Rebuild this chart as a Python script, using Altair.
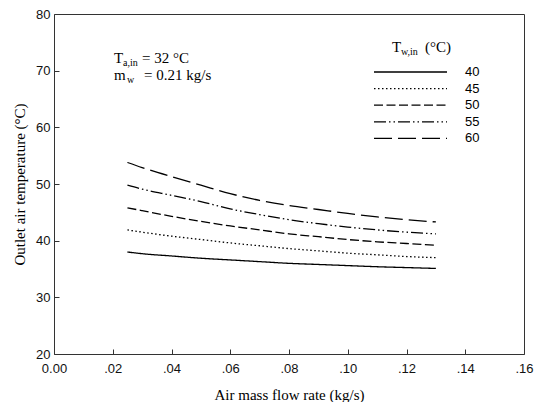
import altair as alt
import pandas as pd

# Data
air_flow = [0.025, 0.03, 0.04, 0.05, 0.06, 0.07, 0.08, 0.09, 0.10, 0.11, 0.12, 0.13]
t_40 = [38.0, 37.7, 37.3, 36.9, 36.6, 36.3, 36.0, 35.8, 35.6, 35.4, 35.25, 35.1]
t_45 = [41.9, 41.5, 40.8, 40.2, 39.6, 39.1, 38.6, 38.2, 37.8, 37.5, 37.2, 37.0]
t_50 = [45.8, 45.3, 44.3, 43.4, 42.6, 41.9, 41.2, 40.7, 40.2, 39.8, 39.5, 39.2]
t_55 = [49.8, 49.1, 48.0, 46.9, 45.6, 44.6, 43.7, 43.0, 42.4, 41.9, 41.5, 41.2]
t_60 = [53.8, 52.9, 51.3, 49.8, 48.3, 47.1, 46.2, 45.5, 44.8, 44.2, 43.7, 43.3]
series_names = ["40", "45", "50", "55", "60"]
series_values = [t_40, t_45, t_50, t_55, t_60]
x_ticks = [0.0, 0.02, 0.04, 0.06, 0.08, 0.10, 0.12, 0.14, 0.16]
y_ticks = [20, 30, 40, 50, 60, 70, 80]

rows = []
for name, vals in zip(series_names, series_values):
    for x, v in zip(air_flow, vals):
        rows.append({"m": x, "T": v, "series": name})
df = pd.DataFrame(rows)
legend_df = pd.DataFrame({"series": series_names, "idx": list(range(len(series_names)))})

dash_range = [[1, 0], [1.5, 2.5], [9, 3.5], [12, 3, 1.5, 3, 1.5, 3], [18, 6]]
dash = alt.StrokeDash("series:N", scale=alt.Scale(domain=series_names, range=dash_range), legend=None)

W, H = 470, 340
SERIF = "Liberation Serif"
SANS = "Liberation Sans"

lines = alt.Chart(df).mark_line(color="black", strokeWidth=1.3, interpolate="monotone").encode(
    x=alt.X("m:Q", scale=alt.Scale(domain=[0, 0.16], nice=False),
            axis=alt.Axis(values=x_ticks, title="Air mass flow rate (kg/s)", offset=-5,
                          tickSize=5, labelPadding=8, titlePadding=12, domain=False,
                          labelFlush=False,
                          labelExpr="datum.value == 0 ? '0.00' : replace(format(datum.value, '.2f'), '0.', '.')")),
    y=alt.Y("T:Q", scale=alt.Scale(domain=[20, 80], nice=False),
            axis=alt.Axis(values=y_ticks, title="Outlet air temperature (°C)", offset=-5,
                          tickSize=5, labelPadding=4, titlePadding=8, domain=False,
                          labelFlush=False)),
    strokeDash=dash,
    detail="series:N",
)

leg_base = alt.Chart(legend_df).transform_calculate(ly="58 + 16.6 * datum.idx")
leg_lines = leg_base.mark_rule(color="black", strokeWidth=1.3).encode(
    x=alt.value(320), x2=alt.value(393),
    y=alt.Y("ly:Q", scale=None),
    strokeDash=dash,
)
leg_labels = leg_base.mark_text(align="left", baseline="middle", font=SANS, fontSize=13, color="black").encode(
    x=alt.value(411), y=alt.Y("ly:Q", scale=None), text="series:N"
)

one = alt.Data(values=[{}])

def txt(s, x, y, size=15, font=SERIF):
    return alt.Chart(one).mark_text(text=s, align="left", baseline="alphabetic", font=font,
                                    fontSize=size, color="black").encode(
        x=alt.value(x), y=alt.value(y))

texts = [
    txt("T", 60, 49), txt("a,in", 69, 52, size=10), txt("= 32 °C", 88, 49),
    txt("m", 60, 66), txt("w", 73, 69, size=10), txt("= 0.21 kg/s", 90, 66),
    txt("T", 338, 38), txt("w,in", 347, 41, size=10), txt("(°C)", 371, 38),
]

chart = alt.layer(lines, leg_lines, leg_labels, *texts).properties(
    width=W, height=H,
    autosize=alt.AutoSizeParams(type="none"),
    padding={"left": 46, "top": 6, "right": 10, "bottom": 48},
).configure_view(stroke="#333", strokeWidth=1).configure_axis(
    labelFont=SANS, labelFontSize=13, labelColor="#111", tickColor="#333",
    titleFont=SERIF, titleFontSize=15, titleFontWeight="normal", titleColor="black",
    grid=False,
)

chart.save("out.html", embed_options={"renderer": "svg", "actions": False})
